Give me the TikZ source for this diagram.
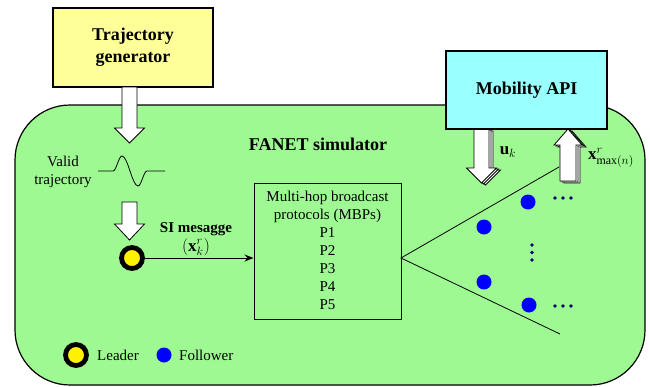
\documentclass[tikz,border=0pt]{standalone}
\usepackage{amsmath}
\usepackage{fontspec}
\setmainfont{Liberation Serif}
\usetikzlibrary{arrows.meta}
\definecolor{tgyellow}{HTML}{FFFF99}
\definecolor{apicyan}{HTML}{99FFFF}
\definecolor{simgreen}{HTML}{9EF993}
\definecolor{dotblue}{HTML}{000066}
\newcommand{\blkarrow}[6]{% cx, ystart, ybase, ytip, shaft half width, head half width
  \draw[bigarrow] ({#1-#5},#2) -- ({#1-#5},#3) -- ({#1-#6},#3) -- (#1,#4) -- ({#1+#6},#3) -- ({#1+#5},#3) -- ({#1+#5},#2) -- cycle;}
\tikzset{
  bigarrow/.style={draw=black, line width=0.8pt, fill=white, line join=miter},
  bluebox/.style={draw=black, line width=1.2pt, inner sep=0pt},
  leadernode/.style={circle, draw=black, fill=yellow, line width=4.8pt, minimum size=21pt, inner sep=0pt},
  follower/.style={circle, fill=blue, minimum size=15pt, inner sep=0pt},
  smalldot/.style={circle, fill=dotblue, minimum size=3.6pt, inner sep=0pt},
  txt/.style={font=\fontsize{15}{18}\selectfont, inner sep=0pt},
  mathtxt/.style={font=\fontsize{17}{20}\selectfont, inner sep=0pt},
  bigtxt/.style={font=\fontsize{18}{22}\selectfont\bfseries, align=center, inner sep=0pt},
}
\begin{document}
\begin{tikzpicture}[x=1pt,y=-1pt]
\useasboundingbox (0,0) rectangle (650,386);
% simulator area
\node[bluebox, fill=simgreen, rounded corners=55pt, minimum width=630pt, minimum height=280pt] (sim) at (330,245) {};
\node[bigtxt] (simlabel) at (318,144) {FANET simulator};
% trajectory generator
\node[bluebox, fill=tgyellow, minimum width=160pt, minimum height=79pt] (tg) at (133,47.5) {};
\node[bigtxt] (tglabel) at (133,47.5) {Trajectory\\generator};
% arrow from generator
\blkarrow{129.5}{87}{128}{143}{7.5}{15}
% valid trajectory
\node[txt, align=center] (valid) at (63,172) {Valid\\trajectory};
\coordinate (w0) at (98,171);
\coordinate (w1) at (165,171);
\draw[line width=0.8pt] (w0) -- (113,171) cos (117.5,163.5) sin (122,156) cos (130,171) sin (138,186) cos (142.5,178.5) sin (147,171) -- (w1);
% arrow to leader
\blkarrow{129.5}{202}{224}{240}{7.5}{15}
% leader
\node[leadernode] (leader) at (132,258) {};
% MBP box
\node[bluebox, line width=1pt, minimum width=147pt, minimum height=136pt] (mbp) at (327.5,251) {};
\node[txt, align=center] (mbptext) at (327.5,250) {Multi-hop broadcast\\protocols (MBPs)\\P1\\P2\\P3\\P4\\P5};
\draw[line width=0.8pt, -{Stealth[length=9pt,width=7pt,inset=3pt]}] (leader.east) -- (mbp.west |- leader.center);
\node[txt, font=\fontsize{15}{18}\selectfont\bfseries] (si) at (196,229) {SI mesagge};
\node[mathtxt] (sivar) at (196,247) {$(\mathbf{x}_k^r)$};
% fan lines
\coordinate (fan) at (401,258);
\coordinate (fanup) at (559,167);
\coordinate (fandown) at (560,334);
\draw[line width=0.8pt] (fanup) -- (fan) -- (fandown);
% followers
\node[follower] (f1) at (528,202) {};
\node[follower] (f2) at (484,227) {};
\node[follower] (f3) at (484,282) {};
\node[follower] (f4) at (529,305) {};
\foreach \x in {555,563,571} {
  \node[smalldot] at (\x,198) {};
  \node[smalldot] at (\x,306) {};
}
\foreach \y in {245,252.5,260} {
  \node[smalldot] at (532,\y) {};
}
% arrows to/from mobility API
\begin{scope}[shift={(4,2)}]\blkarrow{481.5}{129}{168}{183}{7.5}{15}\end{scope}
\begin{scope}[shift={(2,1)}]\blkarrow{481.5}{129}{168}{183}{7.5}{15}\end{scope}
\blkarrow{481.5}{129}{168}{183}{7.5}{15}
\begin{scope}[shift={(4,2)}]\blkarrow{568}{181}{145}{129}{8}{14}\end{scope}
\begin{scope}[shift={(2,1)}]\blkarrow{568}{181}{145}{129}{8}{14}\end{scope}
\blkarrow{568}{181}{145}{129}{8}{14}
\node[mathtxt] (uk) at (508,152) {$\mathbf{u}_k$};
\node[mathtxt] (xmax) at (611,158) {$\mathbf{x}^r_{\max(n)}$};
% mobility API
\node[bluebox, fill=apicyan, minimum width=161pt, minimum height=78pt] (api) at (526.5,90) {};
\node[bigtxt] (apilabel) at (526.5,90) {Mobility API};
% legend
\node[leadernode] (lgleader) at (76,355) {};
\node[txt, anchor=west] (lgleadertxt) at (97,355) {Leader};
\node[follower] (lgfollower) at (164,355) {};
\node[txt, anchor=west] (lgfollowertxt) at (179,355) {Follower};
\end{tikzpicture}
\end{document}
